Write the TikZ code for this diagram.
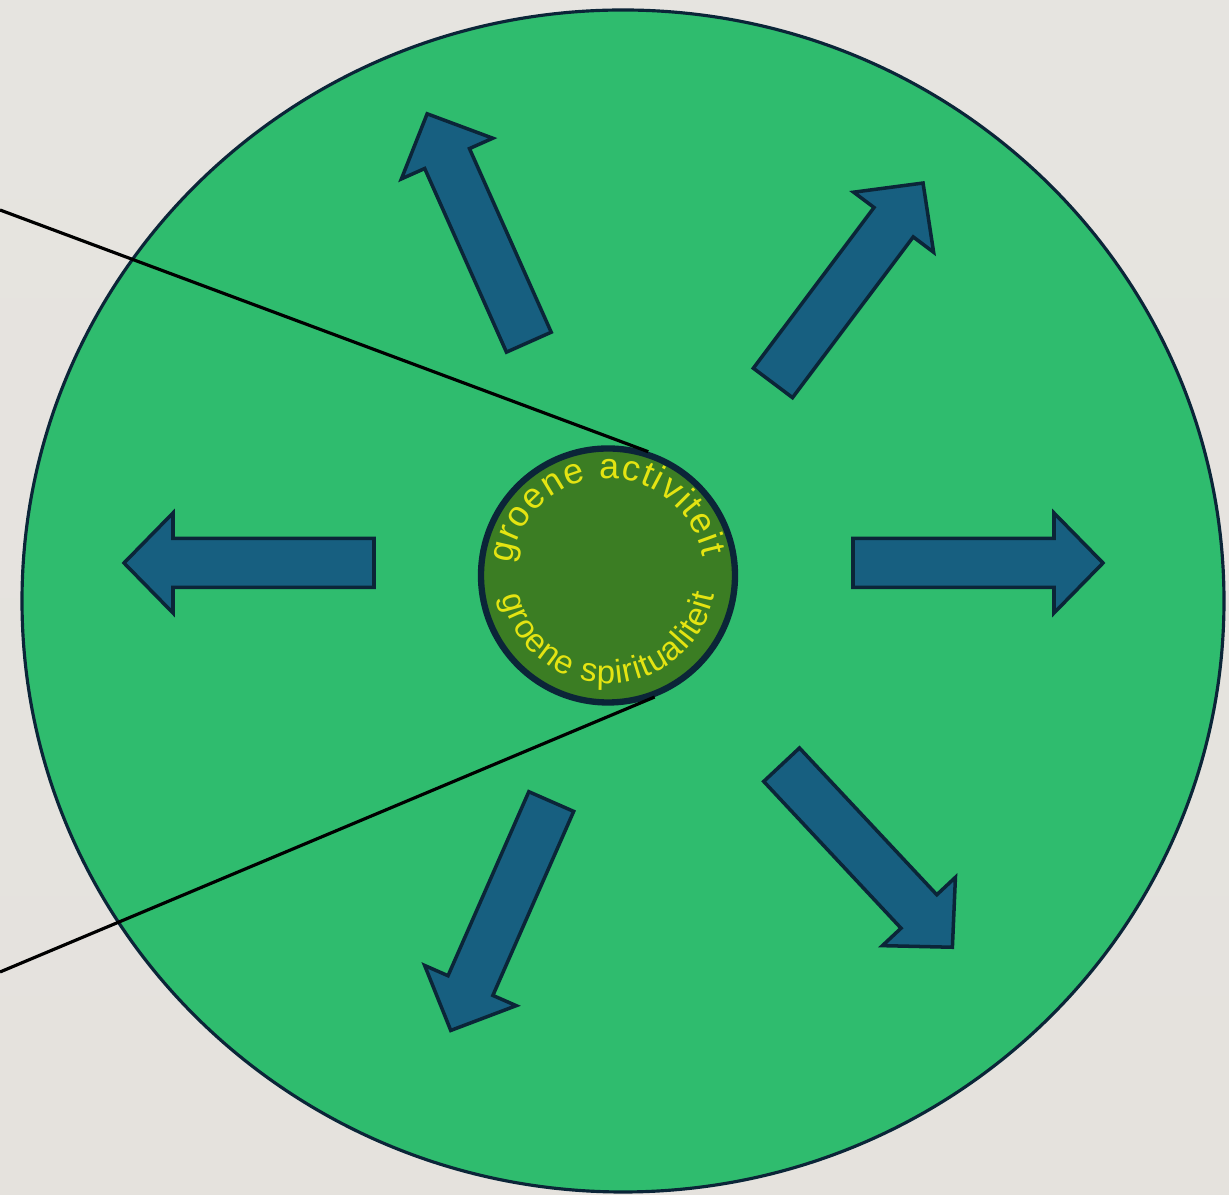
\documentclass[tikz,border=0pt]{standalone}
\usepackage{fontspec}
\setsansfont{Liberation Sans}
\usetikzlibrary{calc,decorations.text}
\definecolor{paper}{RGB}{243,236,228}
\definecolor{papertop}{RGB}{230,228,224}
\definecolor{paperbot}{RGB}{229,226,221}
\definecolor{leaf}{RGB}{47,188,110}
\definecolor{moss}{RGB}{59,125,35}
\definecolor{petrol}{RGB}{23,95,128}
\definecolor{navy}{RGB}{11,37,56}
\definecolor{lemon}{RGB}{228,228,18}
\tikzset{disc/.style={draw=navy,line width=0.9pt,fill=leaf},core/.style={circle,draw=navy,line width=1.8pt,fill=moss,minimum size=2.54cm,inner sep=0pt},push/.style={draw=navy,line width=1pt,fill=petrol,line join=miter},ray/.style={draw=black,line width=0.9pt},bend/.style 2 args={decorate,decoration={text along path,text align={fit to path},text color=lemon,text={|\sffamily\fontsize{#1}{12}\selectfont|#2}}}}

\begin{document}
\begin{tikzpicture}
\shade[top color=papertop,middle color=paper,bottom color=paperbot] (0,0) rectangle (12.29,11.95);
\useasboundingbox (0,0) rectangle (12.29,11.95);
% outer field
\draw[disc] (6.23,5.94) ellipse [x radius=6.01,y radius=5.91];
% six outward arrows
\foreach \ang/\x/\y in {180/2.49/6.32,0/9.78/6.32,114/4.78/9.67,53.1/8.48/9.12,-113.7/5.01/2.79,-46.9/8.67/3.39}
  \draw[push,shift={(\x,\y)},rotate=\ang] (-1.25,-0.245) -- (0.76,-0.245) -- (0.76,-0.5) -- (1.25,0) -- (0.76,0.5) -- (0.76,0.245) -- (-1.25,0.245) -- cycle;
\coordinate (west1) at (0,9.85);
\coordinate (west2) at (0,2.23);
\node[core] (core) at (6.08,6.195) {};
\draw[ray] (west1) -- (core.72);
\draw[ray] (west2) -- (core.-69);
% curved labels
\path[bend={10.2}{groene activiteit}] ($(core.center)+(173:0.97)$) arc[start angle=173,end angle=11,radius=0.97];
\path[bend={9.4}{groene spiritualiteit}] ($(core.center)+(191:1.08)$) arc[start angle=191,end angle=350,radius=1.08];
\end{tikzpicture}
\end{document}
